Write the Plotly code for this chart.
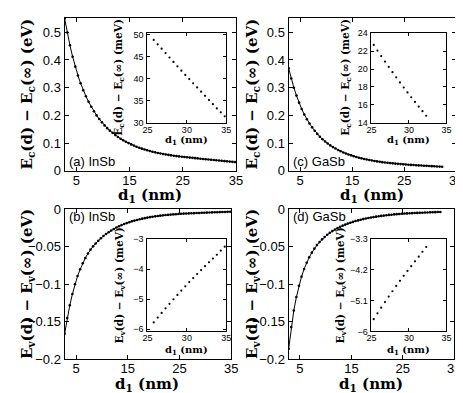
import plotly.graph_objects as go

# well width d1 (nm)
d_insb = [2.8, 3.3, 3.8, 4.3, 4.8, 5.3, 5.8, 6.3, 6.8, 7.3, 7.8, 8.3, 8.8, 9.3, 9.8, 10.3,
          10.8, 11.3, 11.8, 12.3, 12.8, 13.3, 13.8, 14.3, 14.8, 15.3, 15.8, 16.3, 16.8, 17.3,
          17.8, 18.3, 18.8, 19.3, 19.8, 20.3, 20.8, 21.3, 21.8, 22.3, 22.8, 23.3, 23.8, 24.3,
          24.8, 25.3, 25.8, 26.3, 26.8, 27.3, 27.8, 28.3, 28.8, 29.3, 29.8, 30.3, 30.8, 31.3,
          31.8, 32.3, 32.8, 33.3, 33.8, 34.3, 34.8]
d_gasb = [2.8, 3.3, 3.8, 4.3, 4.8, 5.3, 5.8, 6.3, 6.8, 7.3, 7.8, 8.3, 8.8, 9.3, 9.8, 10.3,
          10.8, 11.3, 11.8, 12.3, 12.8, 13.3, 13.8, 14.3, 14.8, 15.3, 15.8, 16.3, 16.8, 17.3,
          17.8, 18.3, 18.8, 19.3, 19.8, 20.3, 20.8, 21.3, 21.8, 22.3, 22.8, 23.3, 23.8, 24.3,
          24.8, 25.3, 25.8, 26.3, 26.8, 27.3, 27.8, 28.3, 28.8, 29.3, 29.8, 30.3, 30.8, 31.3,
          31.8, 32.3]

# Ec(d) - Ec(inf), eV
ec_insb = [0.550, 0.499, 0.453, 0.412, 0.376, 0.344, 0.316, 0.291, 0.269, 0.249,
           0.231, 0.215, 0.200, 0.187, 0.175, 0.164, 0.154, 0.145, 0.137, 0.129,
           0.122, 0.116, 0.110, 0.105, 0.100, 0.0953, 0.0910, 0.0870, 0.0834, 0.0800,
           0.0769, 0.0741, 0.0714, 0.0689, 0.0666, 0.0645, 0.0625, 0.0607, 0.0590, 0.0574,
           0.0559, 0.0545, 0.0532, 0.0520, 0.0509, 0.0498, 0.0488, 0.0478, 0.0468, 0.0458,
           0.0448, 0.0438, 0.0428, 0.0418, 0.04085, 0.0399, 0.03895, 0.0380, 0.03705, 0.0361,
           0.03515, 0.0342, 0.03325, 0.03235, 0.03145]
ec_gasb = [0.370, 0.333, 0.300, 0.2715, 0.246, 0.2233, 0.2035, 0.186, 0.1708, 0.1569,
           0.1444, 0.1333, 0.1230, 0.1142, 0.1060, 0.0986, 0.0918, 0.0857, 0.0804, 0.0751,
           0.0704, 0.0664, 0.0624, 0.0591, 0.0558, 0.0527, 0.0499, 0.0472, 0.0450, 0.0427,
           0.0407, 0.0388, 0.0371, 0.0355, 0.0340, 0.0326, 0.0313, 0.0300, 0.0290, 0.0279,
           0.0269, 0.0259, 0.0251, 0.0243, 0.0235, 0.0227, 0.02207, 0.02145, 0.02084, 0.02024,
           0.01965, 0.01907, 0.01850, 0.01794, 0.01739, 0.01685, 0.01632, 0.01580, 0.01529, 0.01478]

# Ev(d) - Ev(inf), eV
ev_insb = [-0.166, -0.145, -0.128, -0.113, -0.100, -0.089, -0.080, -0.072, -0.065, -0.059,
           -0.0538, -0.0494, -0.0455, -0.0419, -0.0386, -0.0357, -0.0330, -0.0306, -0.0283, -0.0262,
           -0.0243, -0.0226, -0.0211, -0.0197, -0.0184, -0.0172, -0.0161, -0.0151, -0.0142, -0.0133,
           -0.0125, -0.0118, -0.0111, -0.0105, -0.0099, -0.0094, -0.0089, -0.0085, -0.0081, -0.0077,
           -0.0074, -0.0071, -0.0068, -0.00652, -0.00626, -0.00601, -0.00577, -0.00561, -0.005455, -0.00530,
           -0.00515, -0.00500, -0.004855, -0.00471, -0.00457, -0.00443, -0.004295, -0.00416, -0.00403, -0.00390,
           -0.00377, -0.003645, -0.00352, -0.00338, -0.00325]
ev_gasb = [-0.186, -0.157, -0.135, -0.117, -0.102, -0.0898, -0.0796, -0.0712, -0.0640, -0.0578,
           -0.0524, -0.0477, -0.0437, -0.0401, -0.0369, -0.0340, -0.0314, -0.0291, -0.0270, -0.0251,
           -0.0234, -0.0218, -0.0204, -0.0191, -0.0179, -0.0168, -0.0157, -0.0148, -0.0139, -0.0131,
           -0.0123, -0.0116, -0.0110, -0.0104, -0.0098, -0.0093, -0.0088, -0.0084, -0.0079, -0.0075,
           -0.0072, -0.0068, -0.0065, -0.0062, -0.0059, -0.00564, -0.00547, -0.005305, -0.00514, -0.00498,
           -0.004825, -0.00467, -0.00452, -0.004375, -0.00423, -0.00409, -0.00395, -0.003815, -0.00367, -0.00353]

main_xticks = [5, 15, 25, 35]
inset_xticks = [25, 30, 35]
ec_main_yticks = [0, 0.1, 0.2, 0.3, 0.4, 0.5]
ev_main_yticks = [-0.2, -0.15, -0.1, -0.05, 0]
ec_insb_inset_yticks = [30, 35, 40, 45, 50]
ec_gasb_inset_yticks = [14, 16, 18, 20, 22, 24]
ev_insb_inset_yticks = [-6, -5, -4, -3]
ev_gasb_inset_yticks = [-6, -5.1, -4.2, -3.3]

W, H = 463, 393
SANS = "Liberation Sans, Arial, sans-serif"
SERIF = "DejaVu Serif, serif"


def px(x0, x1):
    return [x0 / W, x1 / W]


def py(y0, y1):
    return [1 - y1 / H, 1 - y0 / H]


def inset_part(d, e, dmin):
    xs = [x for x in d if x >= dmin]
    ys = [v * 1000 for x, v in zip(d, e) if x >= dmin]
    return xs, ys


fig = go.Figure()

panels = [
    # main data, inset min d, axis index main, inset
    (d_insb, ec_insb, 25.5, 1, 2),
    (d_gasb, ec_gasb, 25.0, 3, 4),
    (d_insb, ev_insb, 25.5, 5, 6),
    (d_gasb, ev_gasb, 25.0, 7, 8),
]
for d, e, dmin, im, ii in panels:
    sm = "" if im == 1 else str(im)
    fig.add_trace(go.Scatter(x=d, y=e, mode="lines+markers", xaxis="x" + sm, yaxis="y" + sm,
                             line=dict(color="black", width=1),
                             marker=dict(color="black", size=2.6), showlegend=False))
    xs, ys = inset_part(d, e, dmin)
    fig.add_trace(go.Scatter(x=xs, y=ys, mode="markers", xaxis="x" + str(ii), yaxis="y" + str(ii),
                             marker=dict(color="black", size=2.2), showlegend=False))

axis_common = dict(showgrid=False, zeroline=False, showline=True, linecolor="black",
                   mirror="ticks", ticks="inside", tickcolor="black")


def main_axes(n, xd, yd, yr, yticks, ytext=None):
    s = "" if n == 1 else str(n)
    fig.update_layout(**{
        "xaxis" + s: dict(axis_common, domain=xd, anchor="y" + s, range=[2.8, 35],
                          tickvals=main_xticks, ticklen=4, linewidth=1.3, ticklabelstandoff=-3,
                          tickfont=dict(family=SANS, size=13, color="black")),
        "yaxis" + s: dict(axis_common, domain=yd, anchor="x" + s, range=yr,
                          tickvals=yticks, ticktext=ytext, ticklen=4, linewidth=1.3,
                          tickfont=dict(family=SANS, size=13, color="black")),
    })


def inset_axes(n, xd, yd, yr, yticks, ytext=None):
    s = str(n)
    fig.update_layout(**{
        "xaxis" + s: dict(axis_common, domain=xd, anchor="y" + s, range=[25, 35],
                          tickvals=inset_xticks, ticklen=3, linewidth=1, ticklabelstandoff=-2,
                          tickfont=dict(family=SANS, size=9, color="black")),
        "yaxis" + s: dict(axis_common, domain=yd, anchor="x" + s, range=yr,
                          tickvals=yticks, ticktext=ytext, ticklen=3, linewidth=1,
                          ticklabelstandoff=1,
                          tickfont=dict(family=SANS, size=9, color="black")),
    })


main_axes(1, px(53, 229), py(3, 162), [0, 0.552], ec_main_yticks,
          ["0", "0.1", "0.2", "0.3", "0.4", "0.5"])
inset_axes(2, px(138, 219), py(19, 112), [30, 50.3], ec_insb_inset_yticks)
main_axes(3, px(283, 455), py(3, 162), [0, 0.552], ec_main_yticks,
          ["0", "0.1", "0.2", "0.3", "0.4", "0.5"])
inset_axes(4, px(368, 445), py(19, 112), [14, 24], ec_gasb_inset_yticks)
main_axes(5, px(53, 224), py(202, 358), [-0.2, 0], ev_main_yticks,
          ["\u22120.2", "\u22120.15", "\u22120.1", "\u22120.05", "0"])
inset_axes(6, px(138, 219), py(233, 329), [-6.07, -3], ev_insb_inset_yticks,
           ["\u22126", "\u22125", "\u22124", "\u22123"])
main_axes(7, px(283, 453), py(202, 358), [-0.2, 0], ev_main_yticks,
          ["\u22120.2", "\u22120.15", "\u22120.1", "\u22120.05", "0"])
inset_axes(8, px(368, 445), py(233, 329), [-6, -3.3], ev_gasb_inset_yticks,
           ["\u22126", "\u22125.1", "\u22124.2", "\u22123.3"])

ann = []


def text(x, y, t, size, family, angle=0, xanchor="center"):
    ann.append(dict(x=x / W, y=1 - y / H, xref="paper", yref="paper", text=t, showarrow=False,
                    textangle=angle, xanchor=xanchor, yanchor="middle",
                    font=dict(family=family, size=size, color="black")))


ec_title = "<b>E<sub>c</sub>(d) \u2212 E<sub>c</sub>(\u221e) (eV)</b>"
ev_title = "<b>E<sub>v</sub>(d) \u2212 E<sub>v</sub>(\u221e) (eV)</b>"
ec_ititle = "<b>E<sub>c</sub>(d) \u2212 E<sub>c</sub>(\u221e) (meV)</b>"
ev_ititle = "<b>E<sub>v</sub>(d) \u2212 E<sub>v</sub>(\u221e) (meV)</b>"
d_title = "<b>d<sub>1</sub> (nm)</b>"

text(15, 82, ec_title, 15, SERIF, -90)
text(246, 82, ec_title, 15, SERIF, -90)
text(15, 280, ev_title, 15, SERIF, -90)
text(246, 280, ev_title, 15, SERIF, -90)
text(141, 188, d_title, 15, SERIF)
text(369, 188, d_title, 15, SERIF)
text(138, 384, d_title, 15, SERIF)
text(368, 384, d_title, 15, SERIF)

text(108, 65, ec_ititle, 10.5, SERIF, -90)
text(341, 65, ec_ititle, 10.5, SERIF, -90)
text(110, 281, ev_ititle, 10.5, SERIF, -90)
text(337, 281, ev_ititle, 10.5, SERIF, -90)
text(178, 131, d_title, 10, SERIF)
text(406, 131, d_title, 10, SERIF)
text(178, 349, d_title, 10, SERIF)
text(406, 349, d_title, 10, SERIF)

text(55, 152, "(a) InSb", 13, SANS, xanchor="left")
text(285, 152, "(c) GaSb", 13, SANS, xanchor="left")
text(55, 210, "(b) InSb", 13, SANS, xanchor="left")
text(285, 210, "(d) GaSb", 13, SANS, xanchor="left")

fig.update_layout(width=W, height=H, margin=dict(l=0, r=0, t=0, b=0),
                  paper_bgcolor="white", plot_bgcolor="white", annotations=ann)

fig.write_html("out.html")
